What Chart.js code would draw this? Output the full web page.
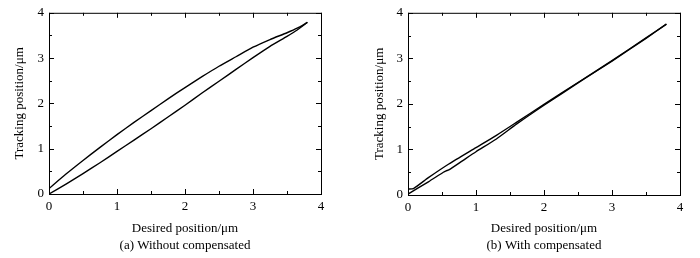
<!DOCTYPE html>
<html>
<head>
<meta charset="utf-8">
<script src="https://cdn.jsdelivr.net/npm/chart.js@4.4.1/dist/chart.umd.min.js"></script>
<style>
    html, body { margin: 0; padding: 0; background: #ffffff; }
    .panel { position: absolute; top: 0; width: 350px; height: 258px; }
</style>
</head>
<body>
<div class="panel" style="left:0"><canvas id="chart_a"></canvas></div>
<div class="panel" style="left:350px"><canvas id="chart_b"></canvas></div>
<script>
// (a) without compensation - rising and falling branches of the hysteresis loop
var aRiseX = [0, 0.25, 0.5, 0.75, 1.0, 1.25, 1.5, 1.75, 2.0, 2.25, 2.5, 2.75, 3.0, 3.25, 3.5, 3.65, 3.8];
var aRiseY = [0.0, 0.22, 0.45, 0.69, 0.94, 1.19, 1.44, 1.70, 1.96, 2.23, 2.49, 2.75, 3.01, 3.26, 3.48, 3.62, 3.79];
var aFallX = [3.8, 3.65, 3.5, 3.25, 3.0, 2.75, 2.5, 2.25, 2.0, 1.75, 1.5, 1.25, 1.0, 0.75, 0.5, 0.25, 0];
var aFallY = [3.79, 3.66, 3.56, 3.41, 3.24, 3.03, 2.82, 2.59, 2.35, 2.10, 1.84, 1.58, 1.31, 1.03, 0.74, 0.44, 0.12];

// (b) with compensation
var bRiseX = [0, 0.3, 0.52, 0.56, 0.6, 0.8, 1.0, 1.3, 1.6, 2.0, 2.5, 3.0, 3.5, 3.8];
var bRiseY = [0.02, 0.29, 0.50, 0.53, 0.55, 0.75, 0.95, 1.23, 1.56, 1.97, 2.46, 2.94, 3.44, 3.75];
var bFallX = [3.8, 3.5, 3.0, 2.5, 2.0, 1.6, 1.3, 1.0, 0.6, 0.3, 0.08, 0];
var bFallY = [3.75, 3.45, 2.95, 2.47, 1.99, 1.60, 1.31, 1.04, 0.68, 0.38, 0.14, 0.13];

var tickValues = [0, 0.5, 1, 1.5, 2, 2.5, 3, 3.5, 4];
var xTitle = 'Desired position/μm';
var yTitle = 'Tracking position/μm';
var captions = ['(a) Without compensated', '(b) With compensated'];

var FONT = "'Liberation Serif', 'Times New Roman', serif";

function toPoints(xs, ys) {
    return xs.map(function(x, i) { return {x: x, y: ys[i]}; });
}

// box around the plot and inward ticks on all four sides
var frameTicks = {
    id: 'frameTicks',
    afterDatasetsDraw: function(chart) {
        var ctx = chart.ctx, area = chart.chartArea;
        var xs = chart.scales.x, ys = chart.scales.y;
        ctx.save();
        ctx.strokeStyle = '#000';
        ctx.lineWidth = 1;
        ctx.strokeRect(area.left + 0.5, area.top + 0.5, area.right - area.left, area.bottom - area.top);
        ctx.beginPath();
        tickValues.forEach(function(v) {
            var len = (v % 1 === 0) ? 5 : 3;
            var px = Math.round(xs.getPixelForValue(v)) + 0.5;
            var py = Math.round(ys.getPixelForValue(v)) + 0.5;
            ctx.moveTo(px, area.bottom); ctx.lineTo(px, area.bottom - len);
            ctx.moveTo(px, area.top); ctx.lineTo(px, area.top + len);
            ctx.moveTo(area.left, py); ctx.lineTo(area.left + len, py);
            ctx.moveTo(area.right, py); ctx.lineTo(area.right - len, py);
        });
        ctx.stroke();
        ctx.restore();
    }
};

function makeChart(id, riseX, riseY, fallX, fallY, caption, yWidth, xHeight, rightPad, yTitlePad) {
    var line = {
        showLine: true,
        pointRadius: 0,
        borderColor: '#000',
        borderWidth: 1.4,
        tension: 0.2,
        fill: false
    };
    return new Chart(document.getElementById(id), {
        type: 'scatter',
        data: {
            datasets: [
                Object.assign({label: 'rise', data: toPoints(riseX, riseY)}, line),
                Object.assign({label: 'fall', data: toPoints(fallX, fallY)}, line)
            ]
        },
        options: {
            responsive: true,
            maintainAspectRatio: false,
            animation: false,
            layout: {
                padding: {left: 0, top: 10, right: rightPad, bottom: 0}
            },
            plugins: {
                legend: {display: false},
                tooltip: {enabled: false},
                title: {
                    display: true,
                    position: 'bottom',
                    fullSize: false,
                    text: caption,
                    color: '#000',
                    font: {family: FONT, size: 13, weight: 'normal'},
                    padding: {top: 0, bottom: 5}
                }
            },
            scales: {
                x: {
                    type: 'linear',
                    min: 0,
                    max: 4,
                    grid: {display: false, drawTicks: false},
                    border: {display: false},
                    ticks: {
                        stepSize: 1,
                        padding: 5,
                        maxRotation: 0,
                        color: '#000',
                        font: {family: FONT, size: 13}
                    },
                    title: {
                        display: true,
                        text: xTitle,
                        color: '#000',
                        font: {family: FONT, size: 13},
                        padding: {top: 0, bottom: 0.6}
                    },
                    afterFit: function(scale) { scale.height = xHeight; }
                },
                y: {
                    type: 'linear',
                    min: 0,
                    max: 4,
                    grid: {display: false, drawTicks: false},
                    border: {display: false},
                    ticks: {
                        stepSize: 1,
                        padding: 5,
                        color: '#000',
                        font: {family: FONT, size: 13}
                    },
                    title: {
                        display: true,
                        text: yTitle,
                        color: '#000',
                        font: {family: FONT, size: 13},
                        padding: {top: yTitlePad, bottom: 0}
                    },
                    afterFit: function(scale) { scale.width = yWidth; }
                }
            }
        },
        plugins: [frameTicks]
    });
}

makeChart('chart_a', aRiseX, aRiseY, aFallX, aFallY, captions[0], 49, 43.4, 29, 11.5);
makeChart('chart_b', bRiseX, bRiseY, bFallX, bFallY, captions[1], 58, 42.4, 20, 21.5);
</script>
</body>
</html>
